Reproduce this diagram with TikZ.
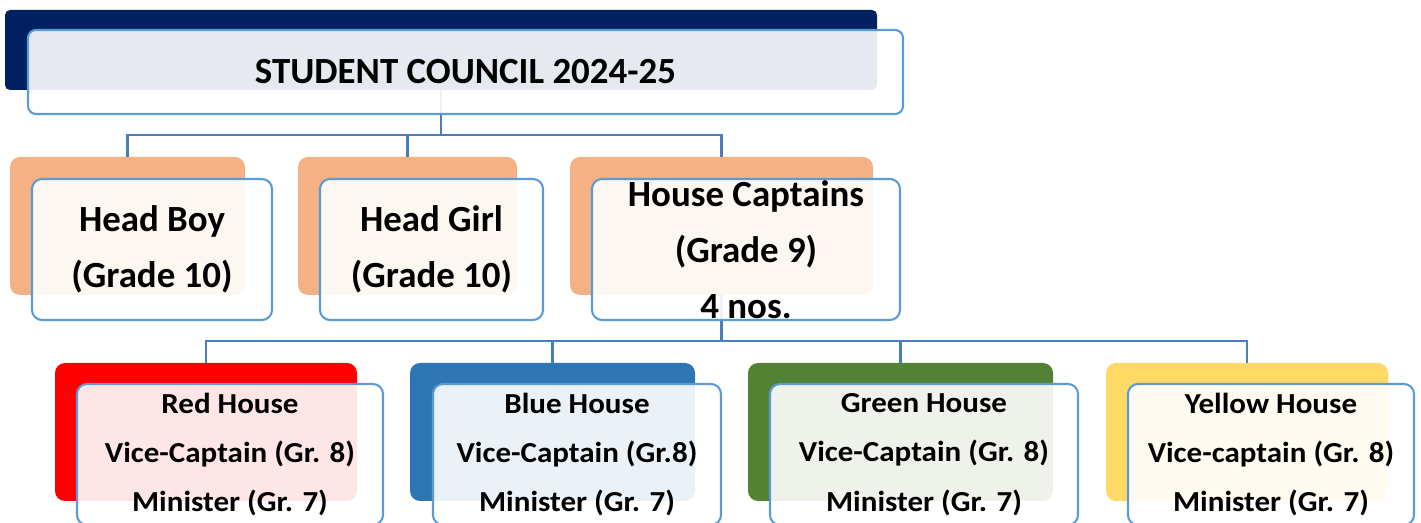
\documentclass[tikz,border=0pt]{standalone}
\usepackage{fontspec}
\setmainfont{Carlito}
\newfontfamily\housefont[FakeStretch=1.07]{Carlito}
\definecolor{navy}{HTML}{002060}
\definecolor{peach}{HTML}{F4B183}
\definecolor{redhouse}{HTML}{FF0000}
\definecolor{bluehouse}{HTML}{2E75B6}
\definecolor{greenhouse}{HTML}{548235}
\definecolor{yellowhouse}{HTML}{FFD966}
\definecolor{frameline}{HTML}{5B9BD5}
\definecolor{linkline}{HTML}{4A7EBB}

\begin{document}
\begin{tikzpicture}[x=0.02cm,y=-0.02cm,
        every node/.style={inner sep=0pt,outer sep=0pt},
        bx/.style 2 args={minimum width=#1*0.02cm,minimum height=#2*0.02cm},
        back/.style={rounded corners=0.2cm},
        front/.style={draw=frameline,line width=1.2pt,fill=white,fill opacity=0.9,text opacity=1,
            rounded corners=0.2cm,align=center,font=\bfseries\fontsize{21}{32}\selectfont},
        house/.style={front,font=\housefont\bfseries\fontsize{16.5}{28}\selectfont},
        link/.style={draw=linkline,line width=1.3pt}]
        \useasboundingbox (0,0) rectangle (1421,523);
        % back plates
        \node[back,rounded corners=0.1cm,fill=navy,bx={872}{80}] (titleb) at (441,50) {};
        \node[back,fill=peach,bx={235}{138}] (boyb) at (127.5,226) {};
        \node[back,fill=peach,bx={219}{138}] (girlb) at (407.5,226) {};
        \node[back,fill=peach,bx={303}{138}] (captb) at (721.5,226) {};
        \node[back,fill=redhouse,bx={302}{138}] (redb) at (206,432) {};
        \node[back,fill=bluehouse,bx={285}{138}] (blueb) at (552.5,432) {};
        \node[back,fill=greenhouse,bx={305}{138}] (greenb) at (900.5,432) {};
        \node[back,fill=yellowhouse,bx={282}{138}] (yellowb) at (1247,432) {};
        % links
        \draw[link] (titleb.south) |- ([yshift=0.44cm]boyb.north) -- (boyb.north);
        \draw[link] (titleb.south) |- ([yshift=0.44cm]girlb.north) -- (girlb.north);
        \draw[link] (titleb.south) |- ([yshift=0.44cm]captb.north) -- (captb.north);
        \draw[link] (captb.south) |- ([yshift=0.44cm]redb.north) -- (redb.north);
        \draw[link] (captb.south) |- ([yshift=0.44cm]blueb.north) -- (blueb.north);
        \draw[link] (captb.south) |- ([yshift=0.44cm]greenb.north) -- (greenb.north);
        \draw[link] (captb.south) |- ([yshift=0.44cm]yellowb.north) -- (yellowb.north);
        % front plates
        \node[front,rounded corners=0.16cm,bx={875}{84}] (title) at (465.5,72) {STUDENT COUNCIL 2024-25};
        \node[front,bx={240}{141}] (boy) at (152,249.5) {Head Boy\\(Grade 10)};
        \node[front,bx={223}{141}] (girl) at (431.5,249.5) {Head Girl\\(Grade 10)};
        \node[front,bx={308}{141}] (capt) at (746,249.5) {House Captains\\(Grade 9)\\4 nos.};
        \node[house,bx={306}{141}] (red) at (230,454.5) {Red House\\Vice-Captain (Gr. 8)\\Minister (Gr. 7)};
        \node[house,bx={288}{141}] (blue) at (577,454.5) {Blue House\\Vice-Captain (Gr.8)\\Minister (Gr. 7)};
        \node[house,bx={308}{141}] (green) at (924,454.5) {Green House\\Vice-Captain (Gr. 8)\\Minister (Gr. 7)};
        \node[house,bx={286}{141}] (yellow) at (1271,454.5) {Yellow House\\Vice-captain (Gr. 8)\\Minister (Gr. 7)};
\end{tikzpicture}
\end{document}
